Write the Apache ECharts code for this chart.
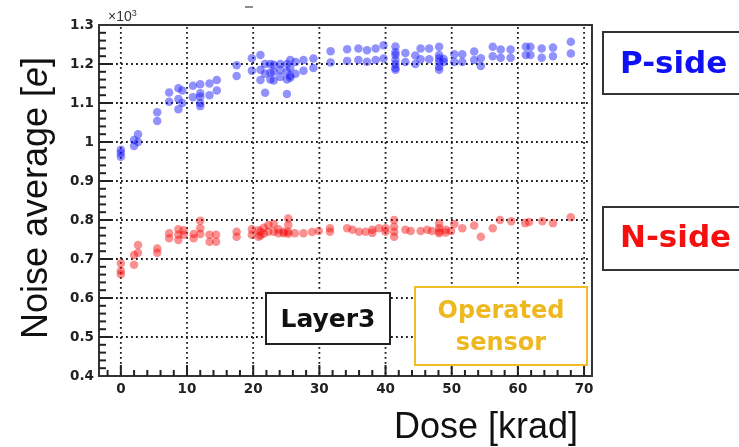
<!DOCTYPE html>
<html><head><meta charset="utf-8">
<script src="https://cdn.jsdelivr.net/npm/echarts@6/dist/echarts.min.js"></script>
<style>html,body{margin:0;padding:0;background:#fff}#c{width:739px;height:447px}</style>
</head><body><div id="c"></div>
<script>
// Dose [krad] vs noise average [10^3 e]
const pSide = [
 [0,0.962],[0,0.972],[0,0.98],[2.0,0.99],[2.0,1.005],[2.6,1.0],[2.6,1.02],
 [5.5,1.054],[5.5,1.076],[7.3,1.103],[7.3,1.127],[8.7,1.084],[8.7,1.11],[8.7,1.138],
 [9.3,1.1],[9.3,1.132],[10.9,1.115],[10.9,1.144],
 [12.0,1.092],[12.0,1.1],[12.0,1.116],[12.0,1.125],[12.0,1.148],
 [13.4,1.12],[13.4,1.15],[14.5,1.132],[14.5,1.159],[17.5,1.169],[17.5,1.197],
 [19.8,1.183],[19.8,1.215],[21.1,1.159],[21.1,1.185],[21.1,1.223],
 [21.8,1.126],[21.8,1.175],[21.8,1.2],[22.6,1.16],[22.6,1.178],[22.6,1.2],
 [23.1,1.158],[23.1,1.18],[23.1,1.198],[24.1,1.167],[24.1,1.185],[24.1,1.2],
 [25.1,1.16],[25.1,1.18],[25.1,1.2],[25.1,1.123],[25.6,1.17],[25.6,1.19],[25.6,1.21],[25.6,1.165],
 [26.4,1.175],[26.4,1.205],[27.6,1.183],[27.6,1.21],[29.1,1.19],[29.1,1.214],
 [31.7,1.204],[31.7,1.233],[34.2,1.208],[34.2,1.238],[35.9,1.21],[35.9,1.24],
 [37.2,1.206],[37.2,1.235],[38.5,1.21],[38.5,1.24],[39.7,1.214],[39.7,1.248],
 [41.5,1.185],[41.5,1.19],[41.5,1.2],[41.5,1.21],[41.5,1.223],[41.5,1.23],[41.5,1.245],
 [43.0,1.205],[43.0,1.228],[44.5,1.2],[44.5,1.222],[45.3,1.212],[45.3,1.24],
 [46.6,1.212],[46.6,1.24],
 [48.1,1.185],[48.1,1.193],[48.1,1.206],[48.1,1.215],[48.1,1.223],[48.1,1.244],
 [48.8,1.205],[48.8,1.213],[50.4,1.205],[50.4,1.225],[51.6,1.205],[51.6,1.225],
 [53.4,1.21],[53.4,1.232],[54.4,1.195],[54.4,1.215],[56.2,1.22],[56.2,1.244],
 [57.4,1.216],[57.4,1.237],[58.9,1.216],[58.9,1.237],[61.2,1.223],[61.2,1.244],
 [61.9,1.223],[61.9,1.244],[63.6,1.216],[63.6,1.24],[65.3,1.22],[65.3,1.242],
 [68.0,1.227],[68.0,1.257]
];
const nSide = [
 [0,0.661],[0,0.670],[0,0.689],[2.0,0.685],[2.0,0.710],[2.6,0.716],[2.6,0.736],
 [5.5,0.716],[5.5,0.727],[7.3,0.753],[7.3,0.766],[8.7,0.749],[8.7,0.762],[8.7,0.776],
 [9.5,0.762],[9.5,0.774],[11.0,0.753],[11.0,0.764],[12.0,0.764],[12.0,0.779],[12.0,0.798],
 [13.4,0.744],[13.4,0.762],[14.4,0.744],[14.4,0.762],[17.5,0.757],[17.5,0.77],
 [19.8,0.762],[19.8,0.776],[20.8,0.757],[20.8,0.774],[21.1,0.76],[21.1,0.77],
 [21.6,0.765],[21.6,0.78],[22.3,0.77],[22.3,0.787],[23.1,0.77],[23.1,0.79],
 [23.8,0.766],[23.8,0.776],[24.6,0.766],[24.6,0.77],
 [25.3,0.765],[25.3,0.77],[25.3,0.787],[25.3,0.804],
 [26.3,0.766],[27.6,0.766],[28.9,0.769],[29.9,0.772],[31.6,0.77],[31.6,0.779],
 [34.2,0.779],[35.0,0.775],[36.0,0.77],[37.0,0.77],[38.0,0.767],[38.0,0.775],
 [39.0,0.779],[40.0,0.77],[40.0,0.779],
 [41.3,0.757],[41.3,0.77],[41.3,0.783],[41.3,0.8],
 [43.0,0.775],[43.8,0.772],[45.3,0.772],[46.3,0.775],[47.0,0.772],
 [48.1,0.766],[48.1,0.77],[48.1,0.779],[48.1,0.791],[49.1,0.768],[49.1,0.775],
 [49.9,0.772],[50.4,0.79],[51.6,0.779],[53.4,0.786],[54.4,0.757],[56.2,0.779],
 [57.3,0.8],[59.0,0.797],[61.1,0.792],[61.7,0.795],[63.7,0.797],[65.3,0.792],[68.0,0.807]
];
const xTickLabels = ['0','10','20','30','40','50','60','70'];
const yTickLabels = ['0.4','0.5','0.6','0.7','0.8','0.9','1','1.1','1.2','1.3'];
const xMajorTicks = [0,10,20,30,40,50,60,70];
const xMinorTicks = [-2,2,4,6,8,12,14,16,18,22,24,26,28,32,34,36,38,42,44,46,48,52,54,56,58,62,64,66,68];
const yMajorTicks = [0.5,0.6,0.7,0.8,0.9,1.0,1.1,1.2];
const yMinorTicks = [];
for (let i = 0; i < 9; i++) { for (let j = 1; j < 5; j++) yMinorTicks.push(+(0.4 + i*0.1 + j*0.02).toFixed(2)); }
const X_MIN = -3.3, X_MAX = 71.2, Y_MIN = 0.4, Y_MAX = 1.3;

const chart = echarts.init(document.getElementById('c'), null, {renderer:'canvas'});
const lblFont = {fontFamily:'DejaVu Sans', fontWeight:'bold', fontSize:13.5, color:'#222'};
const axLine = {show:true, onZero:false, lineStyle:{color:'#333', width:2}};
const staticGraphics = [
    {type:'text', left:108, top:9, style:{text:'×10{s|3}', fontFamily:'Liberation Sans', fontSize:14, fill:'#333',
      rich:{s:{fontSize:9, verticalAlign:'top', padding:[0,0,8,0]}}}},
    {type:'line', shape:{x1:245,y1:7,x2:253,y2:7}, style:{stroke:'#666', lineWidth:1.5}},
    {type:'text', x:37, y:198, rotation:Math.PI/2, style:{text:'Noise average [{i|e}]', fontFamily:'Liberation Sans', fontSize:36, fill:'#111', align:'center', verticalAlign:'middle',
      rich:{i:{fontStyle:'italic', fontFamily:'Liberation Sans', fontSize:36}}}},
    {type:'text', x:578, y:428, style:{text:'Dose [krad]', fontFamily:'Liberation Sans', fontSize:36, fill:'#111', align:'right', verticalAlign:'middle'}},
    {type:'rect', shape:{x:603, y:32, width:160, height:62}, style:{fill:'#fff', stroke:'#333', lineWidth:2}},
    {type:'text', x:620, y:65, style:{text:'P-side', fontFamily:'DejaVu Sans', fontWeight:'bold', fontSize:31, fill:'#1010f5', align:'left', verticalAlign:'middle'}},
    {type:'rect', shape:{x:603, y:207, width:160, height:63}, style:{fill:'#fff', stroke:'#333', lineWidth:2}},
    {type:'text', x:620, y:239, style:{text:'N-side', fontFamily:'DejaVu Sans', fontWeight:'bold', fontSize:31, fill:'#f51010', align:'left', verticalAlign:'middle'}}
];
const boxGraphics = [
    {type:'rect', z:60, shape:{x:266, y:293, width:124, height:51}, style:{fill:'#fff', stroke:'#222', lineWidth:2}},
    {type:'text', z:61, x:328, y:320, style:{text:'Layer3', fontFamily:'DejaVu Sans', fontWeight:'bold', fontSize:25, fill:'#111', align:'center', verticalAlign:'middle'}},
    {type:'rect', z:60, shape:{x:415, y:287, width:172, height:78}, style:{fill:'#fff', stroke:'#f0bc28', lineWidth:2}},
    {type:'text', z:61, x:501, y:312, style:{text:'Operated', fontFamily:'DejaVu Sans', fontWeight:'bold', fontSize:24, fill:'#eeb820', align:'center', verticalAlign:'middle'}},
    {type:'text', z:61, x:501, y:344, style:{text:'sensor', fontFamily:'DejaVu Sans', fontWeight:'bold', fontSize:24, fill:'#eeb820', align:'center', verticalAlign:'middle'}}
];
chart.setOption({
  animation:false,
  grid: {left:99, right:147, top:25, bottom:71, show:false},
  xAxis: {
    type:'value', min:X_MIN, max:X_MAX, splitNumber:7, position:'bottom',
    axisLine:axLine, axisTick:{show:false},
    axisLabel:Object.assign({margin:6, showMinLabel:false, showMaxLabel:false,
      formatter:v=>{const s=String(Math.round(v)); return (Math.abs(v-Math.round(v))<1e-6 && xTickLabels.includes(s))?s:'';}}, lblFont),
    splitLine:{show:false}
  },
  yAxis: {
    type:'value', min:Y_MIN, max:Y_MAX, interval:0.1, position:'left',
    axisLine:axLine, axisTick:{show:false},
    axisLabel:Object.assign({margin:5, formatter:v=>{const s=String(Math.round(v*10)/10); return yTickLabels.includes(s)?s:'';}}, lblFont),
    splitLine:{show:false}
  },
  series: [
    {type:'scatter', data:pSide, symbol:'circle', symbolSize:8.5, z:3, itemStyle:{color:'rgba(20,20,250,0.58)'}},
    {type:'scatter', data:nSide, symbol:'circle', symbolSize:8.5, z:3, itemStyle:{color:'rgba(245,15,15,0.58)'}}
  ],
  graphic: staticGraphics.concat(boxGraphics)
});

// Dotted grid (as small dots, no dash state), frame and inward ticks, all placed through the chart's scales
const px = (x, y) => chart.convertToPixel({gridIndex:0}, [x, y]);
const c0 = px(X_MIN, Y_MIN), c1 = px(X_MAX, Y_MAX);
const dots = [];
xMajorTicks.forEach(v=>{ const p = px(v, Y_MIN);
  for (let yy = c1[1] + 2; yy < c0[1] - 1; yy += 5) dots.push({type:'rect', z:1, silent:true, shape:{x:p[0]-0.9, y:yy, width:1.8, height:1.8}, style:{fill:'#1a1a1a'}}); });
yMajorTicks.forEach(v=>{ const p = px(X_MIN, v);
  for (let xx = c0[0] + 2; xx < c1[0] - 1; xx += 5) dots.push({type:'rect', z:1, silent:true, shape:{x:xx, y:p[1]-0.9, width:1.8, height:1.8}, style:{fill:'#1a1a1a'}}); });
const ticks = [];
const tickStyle = () => ({stroke:'#222', lineWidth:2});
ticks.push({type:'rect', z:50, shape:{x:c0[0], y:c1[1], width:c1[0]-c0[0], height:c0[1]-c1[1]}, style:{fill:null, stroke:'#333', lineWidth:2}});
xMajorTicks.forEach(v=>{const p=px(v, Y_MIN); ticks.push({type:'line', z:50, shape:{x1:p[0],y1:p[1],x2:p[0],y2:p[1]-11}, style:tickStyle()});});
xMinorTicks.forEach(v=>{const p=px(v, Y_MIN); ticks.push({type:'line', z:50, shape:{x1:p[0],y1:p[1],x2:p[0],y2:p[1]-6}, style:tickStyle()});});
yMajorTicks.forEach(v=>{const p=px(X_MIN, v); ticks.push({type:'line', z:50, shape:{x1:p[0],y1:p[1],x2:p[0]+14,y2:p[1]}, style:tickStyle()});});
yMinorTicks.forEach(v=>{const p=px(X_MIN, v); ticks.push({type:'line', z:50, shape:{x1:p[0],y1:p[1],x2:p[0]+7,y2:p[1]}, style:tickStyle()});});
chart.setOption({graphic: staticGraphics.concat(boxGraphics, dots, ticks)});
</script></body></html>
